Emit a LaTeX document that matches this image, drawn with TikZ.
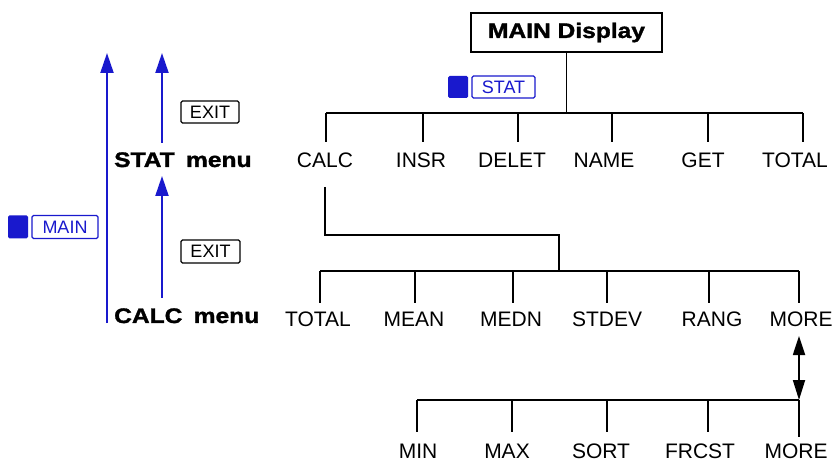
\documentclass[tikz,border=0pt]{standalone}
\usepackage{fontspec}
\setmainfont{Liberation Sans}
\newfontfamily\wideb{Liberation Sans}[FakeStretch=1.17,FakeBold=1.6]
\usetikzlibrary{arrows.meta}
\definecolor{keyblue}{RGB}{25,25,205}
\tikzset{
  lbl/.style={anchor=base,inner sep=0pt,font=\fontsize{21}{21}\selectfont},
  bold/.style={anchor=base west,inner sep=0pt,font=\fontsize{21}{21}\selectfont\wideb\bfseries},
  tree/.style={line width=1.8pt,black},
  keybox/.style={draw,rounded corners=1.5pt,line width=1.3pt,inner sep=0pt,font=\fontsize{18}{18}\selectfont},
  bluekey/.style={keybox,draw=keyblue,text=keyblue},
  shiftkey/.style={fill=keyblue,rounded corners=1.5pt,inner sep=0pt,minimum width=20pt,minimum height=22pt},
  bluearrow/.style={line width=2.1pt,keyblue,-{Triangle[length=20pt,width=13pt]}},
  blackarrow/.style={line width=1.8pt,black,{Triangle[length=19pt,width=12pt]}-{Triangle[length=20pt,width=12pt]}},
}
\begin{document}
\begin{tikzpicture}[x=1pt,y=-1pt]
\useasboundingbox (0,0) rectangle (835,462);

% MAIN Display
\node[draw,line width=1.8pt,minimum width=191pt,minimum height=39pt,inner sep=0pt,
      font=\fontsize{21}{21}\selectfont\wideb\bfseries] (main) at (566.5,32.5) {MAIN Display};
\node[shiftkey] (statshift) at (458,87) {};
\node[bluekey,minimum width=63pt,minimum height=22pt] (statkey) at (503.5,87) {STAT};

% level 1
\coordinate (bar1L) at (326,113);
\coordinate (bar1R) at (803,113);
\draw[tree] (main.south) -- (main.south |- bar1L);
\draw[tree] (bar1L) -- (bar1R);
\foreach \n/\tx/\cx/\t in {calc/326/325/CALC,insr/423/421/INSR,delet/518/512/DELET,name/612/604/NAME,get/708/703/GET,total/803/795/TOTAL}{
  \node[lbl] (\n) at (\cx,168) {\t};
  \draw[tree] (\tx,113) -- (\tx,142);
}

% CALC connector
\coordinate (c1) at (325,187);
\coordinate (c2) at (325,235);
\coordinate (c3) at (559,235);
\coordinate (bar2L) at (320,271);
\coordinate (bar2R) at (799,271);
\draw[tree] (c1) -- (c2) -- (c3) -- (c3 |- bar2L);
\draw[tree] (bar2L) -- (bar2R);
\foreach \n/\tx/\cx/\t in {ctotal/320/318/TOTAL,mean/415/414/MEAN,medn/513/511/MEDN,stdev/607/607/STDEV,rang/709/712/RANG,more/799/801/MORE}{
  \node[lbl] (\n) at (\cx,326) {\t};
  \draw[tree] (\tx,271) -- (\tx,303);
}

% level 3
\coordinate (bar3L) at (417,400);
\coordinate (bar3R) at (799,400);
\coordinate (moretop) at (799,336);
\draw[blackarrow] (moretop) -- (bar3R);
\draw[tree] (bar3L) -- (bar3R);
\foreach \n/\tx/\cx/\t/\tb in {min/417/418/MIN/432,max/512/507/MAX/432,sort/607/601/SORT/432,frcst/708/700/FRCST/432,more2/799/796/MORE/437}{
  \node[lbl] (\n) at (\cx,458) {\t};
  \draw[tree] (\tx,400) -- (\tx,\tb);
}

% left side
\node[bold] (statmenu) at (114,167) {STAT\hspace{4.5pt} menu};
\node[bold] (calcmenu) at (114,323) {CALC\hspace{4.5pt} menu};
\coordinate (longbot) at (107,323);
\coordinate (longtop) at (107,53);
\coordinate (s1bot) at (162,143);
\coordinate (s1top) at (162,53);
\coordinate (s2bot) at (162,298);
\coordinate (s2top) at (162,176);
\draw[bluearrow] (longbot) -- (longtop);
\draw[bluearrow] (s1bot) -- (s1top);
\draw[bluearrow] (s2bot) -- (s2top);
\node[keybox,minimum width=58pt,minimum height=22pt] (exit1) at (210,112) {EXIT};
\node[keybox,minimum width=59pt,minimum height=23pt] (exit2) at (210.5,251.5) {EXIT};
\node[shiftkey,minimum height=23pt] (mainshift) at (18,227) {};
\node[bluekey,minimum width=66pt,minimum height=23pt] (mainkey) at (65,227) {MAIN};
\end{tikzpicture}
\end{document}
